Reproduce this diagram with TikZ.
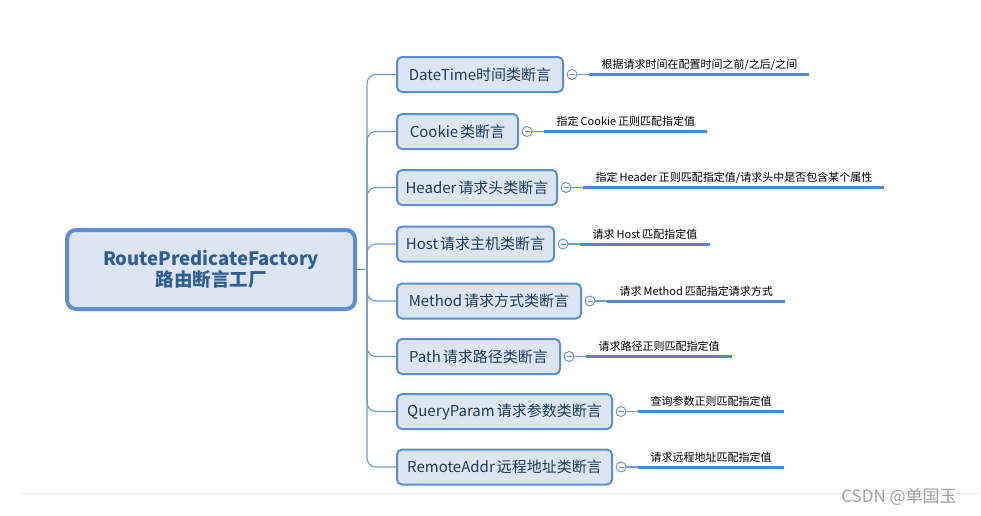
\documentclass[tikz,border=0pt]{standalone}
\usepackage{fontspec}
\setmainfont{Noto Sans CJK SC}
\definecolor{boxborder}{HTML}{5A8FD6}
\definecolor{boxfill}{HTML}{DCE6F2}
\definecolor{childtext}{HTML}{1E3A5F}
\definecolor{roottext}{HTML}{2F5E97}
\definecolor{lineblue}{HTML}{4F88D2}
\definecolor{branchblue}{HTML}{6B9DDC}
\definecolor{wmgray}{HTML}{A0A0A0}
\definecolor{rulegray}{HTML}{E8E8E8}
\newcommand{\gp}{\hspace{2pt}}
\begin{document}
\begin{tikzpicture}[x=1pt,y=-1pt,
  rootbox/.style={draw=boxborder, line width=4pt, fill=boxfill, rounded corners=9pt,
    minimum width=288pt, minimum height=79pt, align=center, text=roottext,
    font=\fontsize{18.5pt}{21pt}\selectfont\bfseries, inner sep=0pt},
  childbox/.style={draw=boxborder, line width=2pt, fill=boxfill, rounded corners=5pt,
    minimum height=35pt, inner xsep=8pt, text=childtext,
    font=\fontsize{15pt}{18pt}\selectfont, anchor=west},
  collapse/.style={circle, draw=boxborder, line width=0.9pt, fill=white,
    minimum size=10pt, inner sep=0pt,
    path picture={\draw[boxborder, line width=0.9pt]
      ([xshift=-2.5pt]path picture bounding box.center) --
      ([xshift=2.5pt]path picture bounding box.center);}},
  leaf/.style={anchor=south west, inner xsep=12pt, inner ysep=0pt,
    text height=10pt, text depth=5.5pt,
    font=\fontsize{11pt}{13pt}\selectfont, text=black},
  leafline/.style={draw=lineblue, line width=3pt},
  stem/.style={draw=branchblue, line width=1.2pt},
  trunk/.style={draw=branchblue, line width=1.2pt, rounded corners=9pt}
]
\fill[white] (0,0) rectangle (981,515);
\useasboundingbox (0,0) rectangle (981,515);

% bottom rule and watermark
\coordinate (r1) at (20,493);
\coordinate (r2) at (978,493);
\draw[rulegray, line width=0.8pt] (r1) -- (r2);
\node[font=\fontsize{17pt}{19pt}\selectfont, text=wmgray, inner sep=0pt] (wm) at (899,497) {CSDN @单国玉};

% root
\node[rootbox] (root) at (211,269.5) {RoutePredicateFactory\\路由断言工厂};
\coordinate (hub) at (367,269.5);

% children
\node[childbox, minimum width=166pt] (c1) at (396,74.5) {DateTime时间类断言};
\node[childbox, minimum width=121pt] (c2) at (396,131.5) {Cookie\gp 类断言};
\node[childbox, minimum width=160pt] (c3) at (396,187.5) {Header\gp 请求头类断言};
\node[childbox, minimum width=157pt] (c4) at (396,244) {Host\gp 请求主机类断言};
\node[childbox, minimum width=184pt] (c5) at (396,301) {Method\gp 请求方式类断言};
\node[childbox, minimum width=163pt] (c6) at (396,356.5) {Path\gp 请求路径类断言};
\node[childbox, minimum width=215pt] (c7) at (396,411.5) {QueryParam\gp 请求参数类断言};
\node[childbox, minimum width=215pt] (c8) at (396,467) {RemoteAddr\gp 远程地址类断言};

\draw[stem] (root.east) -- (hub);
\foreach \c in {c1,c2,c3,c4,c5,c6,c7,c8}
  \draw[trunk] (hub) |- (\c.west);

% collapse circles
\foreach \i in {1,...,8}
  \node[collapse] (k\i) at ([xshift=8pt]c\i.east) {};

% leaves
\node[leaf] (l1) at ([xshift=12pt]k1.east) {根据请求时间在配置时间之前/之后/之间};
\node[leaf] (l2) at ([xshift=12pt]k2.east) {指定\gp Cookie\gp 正则匹配指定值};
\node[leaf] (l3) at ([xshift=12pt]k3.east) {指定\gp Header\gp 正则匹配指定值/请求头中是否包含某个属性};
\node[leaf] (l4) at ([xshift=12pt]k4.east) {请求\gp Host\gp 匹配指定值};
\node[leaf] (l5) at ([xshift=12pt]k5.east) {请求\gp Method\gp 匹配指定请求方式};
\node[leaf] (l6) at ([xshift=12pt]k6.east) {请求路径正则匹配指定值};
\node[leaf] (l7) at ([xshift=12pt]k7.east) {查询参数正则匹配指定值};
\node[leaf] (l8) at ([xshift=12pt]k8.east) {请求远程地址匹配指定值};

\foreach \i in {1,...,8} {
  \draw[stem] (k\i.east) -- (l\i.south west);
  \draw[leafline] (l\i.south west) -- (l\i.south east);
}
\end{tikzpicture}
\end{document}
